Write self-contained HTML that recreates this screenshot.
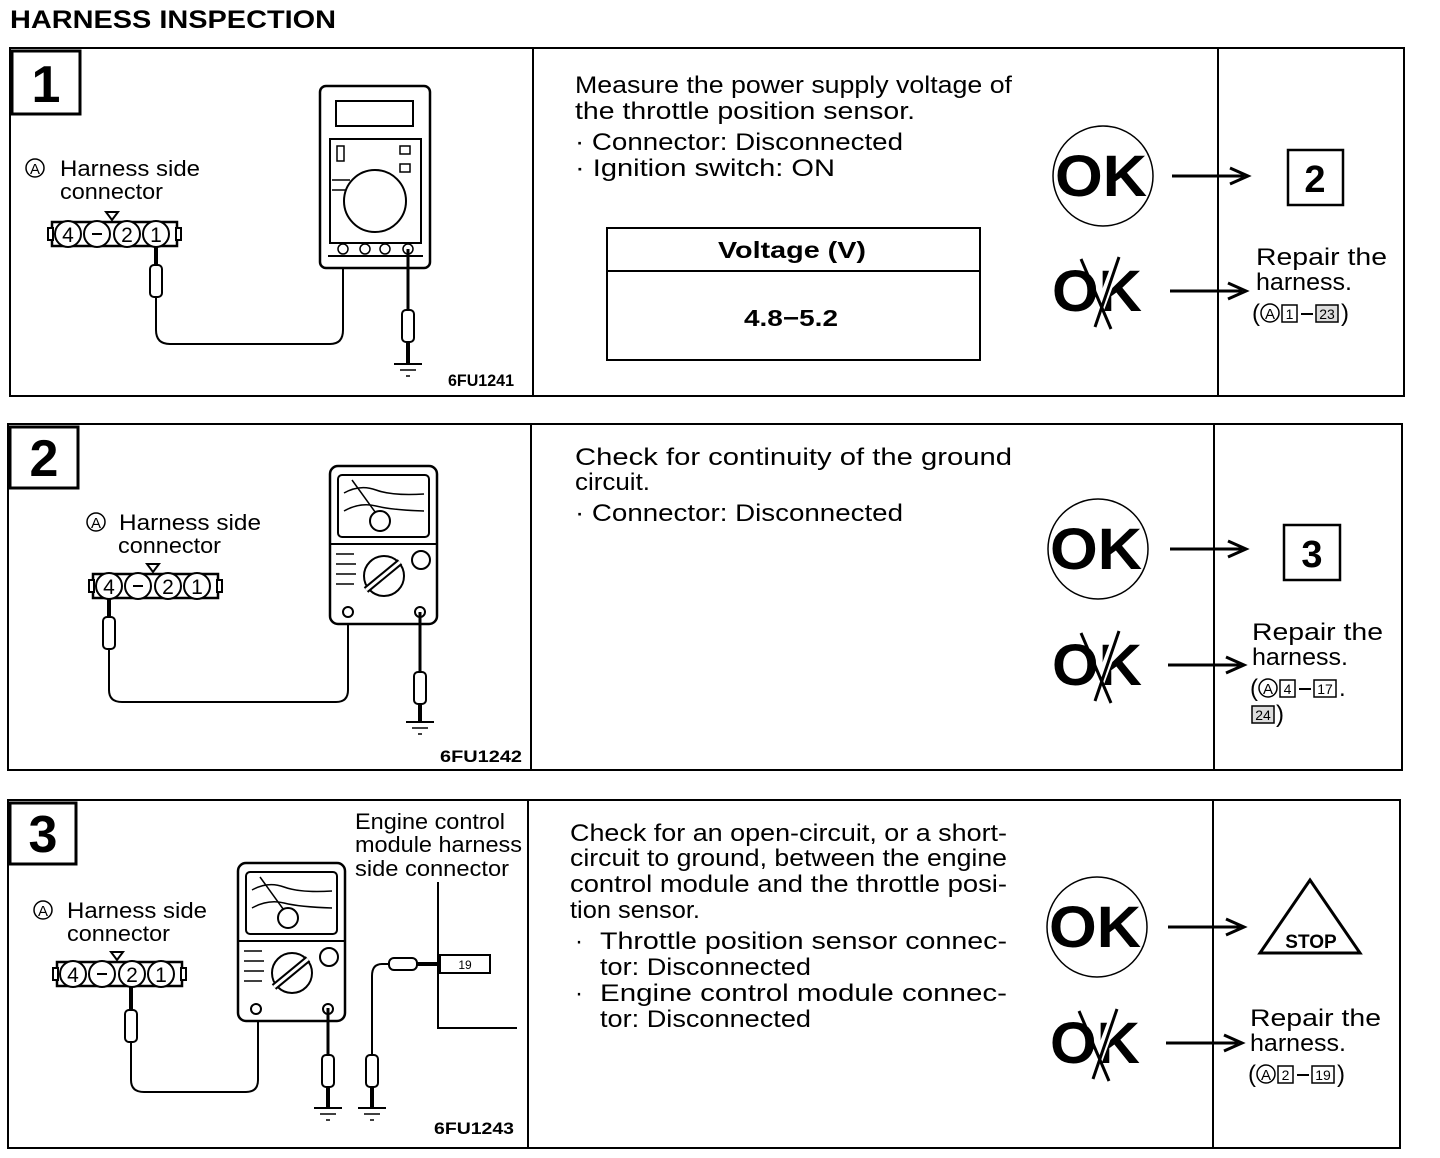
<!DOCTYPE html>
<html><head><meta charset="utf-8"><style>
html,body{margin:0;padding:0;background:#fff}
svg{display:block}
text{font-family:"Liberation Sans",sans-serif;fill:#000}
.t{font-size:24px}
.b{font-weight:bold}
</style></head><body>
<svg width="1440" height="1158" viewBox="0 0 1440 1158" xmlns="http://www.w3.org/2000/svg">
<defs>
<g id="ca"><circle cx="0" cy="0" r="9" fill="none" stroke="#000" stroke-width="1.5"/><text x="0" y="6" text-anchor="middle" font-size="15">A</text></g>
<g id="ok">
<circle cx="0" cy="0" r="50" fill="none" stroke="#000" stroke-width="1.5"/>
<text x="-2" y="20" text-anchor="middle" class="b" font-size="58" textLength="92" lengthAdjust="spacingAndGlyphs">OK</text>
</g>
<g id="ng">
<text x="0" y="20" text-anchor="middle" class="b" font-size="58" textLength="90" lengthAdjust="spacingAndGlyphs">OK</text>
<line x1="-4" y1="36" x2="22" y2="-34" stroke="#fff" stroke-width="9"/>
<line x1="-2" y1="36" x2="22" y2="-34" stroke="#000" stroke-width="3"/>
<line x1="-16" y1="-32" x2="14" y2="38" stroke="#000" stroke-width="3"/>
</g>
<g id="arr"><line x1="0" y1="0" x2="72" y2="0" stroke="#000" stroke-width="3"/><path d="M58,-8 L76,0 L58,8" fill="none" stroke="#000" stroke-width="3"/></g>
<g id="gnd"><line x1="-14" y1="0" x2="14" y2="0" stroke="#000" stroke-width="2"/><line x1="-8" y1="6" x2="8" y2="6" stroke="#000" stroke-width="1.5"/><line x1="-2" y1="12" x2="2" y2="12" stroke="#000" stroke-width="1.5"/></g>
<g id="probe"><rect x="-6" y="0" width="12" height="32" rx="4" fill="#fff" stroke="#000" stroke-width="2"/></g>
<g id="conn">
<rect x="0" y="0" width="125" height="24" fill="#fff" stroke="#000" stroke-width="2.5"/>
<rect x="-4" y="6" width="5" height="12" fill="#fff" stroke="#000" stroke-width="2"/>
<rect x="124" y="6" width="5" height="12" fill="#fff" stroke="#000" stroke-width="2"/>
<circle cx="16" cy="12" r="13" fill="#fff" stroke="#000" stroke-width="2"/>
<circle cx="45" cy="12" r="13" fill="#fff" stroke="#000" stroke-width="2"/>
<circle cx="75" cy="12" r="13" fill="#fff" stroke="#000" stroke-width="2"/>
<circle cx="104" cy="12" r="13" fill="#fff" stroke="#000" stroke-width="2"/>
<text x="16" y="20" text-anchor="middle" font-size="21">4</text>
<line x1="40" y1="12" x2="50" y2="12" stroke="#000" stroke-width="2"/>
<text x="75" y="20" text-anchor="middle" font-size="21">2</text>
<text x="104" y="20" text-anchor="middle" font-size="21">1</text>
<path d="M54,-10 L66,-10 L60,-2 Z" fill="#fff" stroke="#000" stroke-width="2"/>
</g>
<g id="analog">
<rect x="0" y="0" width="107" height="158" rx="8" fill="#fff" stroke="#000" stroke-width="2.5"/>
<rect x="8" y="9" width="91" height="62" rx="4" fill="none" stroke="#000" stroke-width="2"/>
<line x1="0" y1="78" x2="107" y2="78" stroke="#000" stroke-width="2"/>
<path d="M14,27 Q30,18 46,24 T94,28 M14,45 Q30,36 46,40 T94,45" fill="none" stroke="#000" stroke-width="1.5"/>
<line x1="22" y1="14" x2="48" y2="50" stroke="#000" stroke-width="1.5"/>
<circle cx="50" cy="55" r="10" fill="#fff" stroke="#000" stroke-width="2"/>
<circle cx="91" cy="94" r="9" fill="none" stroke="#000" stroke-width="2"/>
<circle cx="54" cy="110" r="20" fill="none" stroke="#000" stroke-width="2"/>
<line x1="36" y1="124" x2="70" y2="96" stroke="#000" stroke-width="7"/>
<line x1="36" y1="124" x2="70" y2="96" stroke="#fff" stroke-width="3"/>
<path d="M6,88 H24 M6,98 H26 M6,108 H26 M6,118 H24" stroke="#000" stroke-width="1.5"/>
<circle cx="18" cy="146" r="5" fill="none" stroke="#000" stroke-width="2"/>
<circle cx="90" cy="146" r="5" fill="none" stroke="#000" stroke-width="2"/>
</g>
</defs>

<text x="10" y="28" class="b" font-size="25" textLength="326" lengthAdjust="spacingAndGlyphs">HARNESS INSPECTION</text>

<!-- Panel 1 -->
<rect x="10" y="48" width="1394" height="348" fill="none" stroke="#000" stroke-width="2"/>
<line x1="533" y1="48" x2="533" y2="396" stroke="#000" stroke-width="2"/>
<line x1="1218" y1="48" x2="1218" y2="396" stroke="#000" stroke-width="2"/>
<rect x="12" y="51" width="68" height="63" fill="none" stroke="#000" stroke-width="3"/>
<text x="46" y="102" text-anchor="middle" class="b" font-size="52">1</text>
<use href="#ca" x="35" y="168"/>
<text x="60" y="176" font-size="22" textLength="140" lengthAdjust="spacingAndGlyphs">Harness  side</text>
<text x="60" y="199" font-size="22" textLength="103" lengthAdjust="spacingAndGlyphs">connector</text>
<use href="#conn" x="52" y="222"/>
<line x1="156" y1="246" x2="156" y2="265" stroke="#000" stroke-width="4"/>
<use href="#probe" x="156" y="265"/>
<path d="M156,297 V330 Q156,344 170,344 H330 Q343,344 343,330 V252" fill="none" stroke="#000" stroke-width="2"/>
<rect x="320" y="86" width="110" height="182" rx="6" fill="#fff" stroke="#000" stroke-width="2.5"/>
<rect x="336" y="101" width="77" height="25" fill="none" stroke="#000" stroke-width="2"/>
<rect x="330" y="139" width="91" height="104" fill="none" stroke="#000" stroke-width="2"/>
<circle cx="375" cy="201" r="31" fill="none" stroke="#000" stroke-width="2"/>
<rect x="337" y="146" width="7" height="15" fill="none" stroke="#000" stroke-width="1.5"/>
<rect x="400" y="146" width="10" height="8" fill="none" stroke="#000" stroke-width="1.5"/>
<rect x="400" y="164" width="10" height="8" fill="none" stroke="#000" stroke-width="1.5"/>
<path d="M332,180 H350 M332,190 H346" stroke="#000" stroke-width="1.5"/>
<line x1="328" y1="256" x2="423" y2="256" stroke="#000" stroke-width="2"/>
<circle cx="343" cy="249" r="5" fill="none" stroke="#000" stroke-width="1.5"/>
<circle cx="365" cy="249" r="5" fill="none" stroke="#000" stroke-width="1.5"/>
<circle cx="385" cy="249" r="5" fill="none" stroke="#000" stroke-width="1.5"/>
<circle cx="408" cy="249" r="5" fill="none" stroke="#000" stroke-width="1.5"/>
<line x1="408" y1="249" x2="408" y2="310" stroke="#000" stroke-width="3"/>
<use href="#probe" x="408" y="310"/>
<line x1="408" y1="342" x2="408" y2="364" stroke="#000" stroke-width="4"/>
<use href="#gnd" x="408" y="364"/>
<text x="448" y="386" class="b" font-size="17" textLength="66" lengthAdjust="spacingAndGlyphs">6FU1241</text>

<text x="575" y="93" class="t" textLength="437" lengthAdjust="spacingAndGlyphs">Measure the power supply voltage of</text>
<text x="575" y="119" class="t" textLength="340" lengthAdjust="spacingAndGlyphs">the  throttle  position  sensor.</text>
<text x="575" y="150" class="t" textLength="328" lengthAdjust="spacingAndGlyphs">·  Connector:  Disconnected</text>
<text x="575" y="176" class="t" textLength="260" lengthAdjust="spacingAndGlyphs">·  Ignition  switch:  ON</text>
<rect x="607" y="228" width="373" height="132" fill="none" stroke="#000" stroke-width="2"/>
<line x1="607" y1="271" x2="980" y2="271" stroke="#000" stroke-width="2"/>
<text x="718" y="258" class="b" font-size="23" textLength="148" lengthAdjust="spacingAndGlyphs">Voltage  (V)</text>
<text x="744" y="326" class="b" font-size="23" textLength="94" lengthAdjust="spacingAndGlyphs">4.8−5.2</text>
<use href="#ok" x="1103" y="176"/>
<use href="#ng" x="1097" y="291"/>
<use href="#arr" x="1172" y="176"/>
<use href="#arr" x="1170" y="291"/>
<rect x="1288" y="150" width="55" height="55" fill="none" stroke="#000" stroke-width="2.5"/>
<text x="1315" y="192" text-anchor="middle" class="b" font-size="38">2</text>
<text x="1256" y="265" class="t" textLength="131" lengthAdjust="spacingAndGlyphs">Repair  the</text>
<text x="1256" y="290" class="t" textLength="96" lengthAdjust="spacingAndGlyphs">harness.</text>
<g transform="translate(1252,304)">
<text x="0" y="17" class="t">(</text><use href="#ca" x="18" y="9"/>
<rect x="30" y="1" width="15" height="17" fill="none" stroke="#000" stroke-width="1.5"/><text x="37.5" y="15" text-anchor="middle" font-size="14">1</text>
<line x1="49" y1="10" x2="61" y2="10" stroke="#000" stroke-width="2"/>
<rect x="64" y="1" width="22" height="17" fill="#ddd" stroke="#000" stroke-width="1.5"/><text x="75" y="15" text-anchor="middle" font-size="14">23</text>
<text x="89" y="17" class="t">)</text></g>

<!-- Panel 2 -->
<rect x="8" y="424" width="1394" height="346" fill="none" stroke="#000" stroke-width="2"/>
<line x1="531" y1="424" x2="531" y2="770" stroke="#000" stroke-width="2"/>
<line x1="1214" y1="424" x2="1214" y2="770" stroke="#000" stroke-width="2"/>
<rect x="10" y="427" width="68" height="61" fill="none" stroke="#000" stroke-width="3"/>
<text x="44" y="476" text-anchor="middle" class="b" font-size="52">2</text>
<use href="#ca" x="96" y="522"/>
<text x="119" y="530" font-size="22" textLength="142" lengthAdjust="spacingAndGlyphs">Harness  side</text>
<text x="118" y="553" font-size="22" textLength="103" lengthAdjust="spacingAndGlyphs">connector</text>
<use href="#conn" x="93" y="574"/>
<line x1="109" y1="598" x2="109" y2="617" stroke="#000" stroke-width="4"/>
<use href="#probe" x="109" y="617"/>
<path d="M109,649 V690 Q109,702 122,702 H336 Q348,702 348,690 V612" fill="none" stroke="#000" stroke-width="2"/>
<use href="#analog" x="330" y="466"/>
<line x1="420" y1="612" x2="420" y2="672" stroke="#000" stroke-width="3"/>
<use href="#probe" x="420" y="672"/>
<line x1="420" y1="704" x2="420" y2="722" stroke="#000" stroke-width="4"/>
<use href="#gnd" x="420" y="722"/>
<text x="440" y="762" class="b" font-size="17" textLength="82" lengthAdjust="spacingAndGlyphs">6FU1242</text>
<text x="575" y="465" class="t" textLength="437" lengthAdjust="spacingAndGlyphs">Check  for  continuity  of  the  ground</text>
<text x="575" y="490" class="t" textLength="75" lengthAdjust="spacingAndGlyphs">circuit.</text>
<text x="575" y="521" class="t" textLength="328" lengthAdjust="spacingAndGlyphs">·  Connector:  Disconnected</text>
<use href="#ok" x="1098" y="549"/>
<use href="#ng" x="1097" y="665"/>
<use href="#arr" x="1170" y="549"/>
<use href="#arr" x="1168" y="665"/>
<rect x="1284" y="525" width="56" height="55" fill="none" stroke="#000" stroke-width="2.5"/>
<text x="1312" y="567" text-anchor="middle" class="b" font-size="38">3</text>
<text x="1252" y="640" class="t" textLength="131" lengthAdjust="spacingAndGlyphs">Repair  the</text>
<text x="1252" y="665" class="t" textLength="96" lengthAdjust="spacingAndGlyphs">harness.</text>
<g transform="translate(1250,679)">
<text x="0" y="17" class="t">(</text><use href="#ca" x="18" y="9"/>
<rect x="30" y="1" width="15" height="17" fill="none" stroke="#000" stroke-width="1.5"/><text x="37.5" y="15" text-anchor="middle" font-size="14">4</text>
<line x1="49" y1="10" x2="61" y2="10" stroke="#000" stroke-width="2"/>
<rect x="64" y="1" width="22" height="17" fill="none" stroke="#000" stroke-width="1.5"/><text x="75" y="15" text-anchor="middle" font-size="14">17</text>
<text x="89" y="17" class="t">.</text>
<rect x="2" y="27" width="22" height="17" fill="#ddd" stroke="#000" stroke-width="1.5"/><text x="13" y="41" text-anchor="middle" font-size="14">24</text>
<text x="26" y="43" class="t">)</text></g>

<!-- Panel 3 -->
<rect x="8" y="800" width="1392" height="348" fill="none" stroke="#000" stroke-width="2"/>
<line x1="528" y1="800" x2="528" y2="1148" stroke="#000" stroke-width="2"/>
<line x1="1213" y1="800" x2="1213" y2="1148" stroke="#000" stroke-width="2"/>
<rect x="10" y="803" width="66" height="61" fill="none" stroke="#000" stroke-width="3"/>
<text x="43" y="852" text-anchor="middle" class="b" font-size="52">3</text>
<text x="355" y="829" font-size="22" textLength="150" lengthAdjust="spacingAndGlyphs">Engine control</text>
<text x="355" y="852" font-size="22" textLength="167" lengthAdjust="spacingAndGlyphs">module harness</text>
<text x="355" y="876" font-size="22" textLength="154" lengthAdjust="spacingAndGlyphs">side connector</text>
<use href="#ca" x="43" y="910"/>
<text x="67" y="918" font-size="22" textLength="140" lengthAdjust="spacingAndGlyphs">Harness  side</text>
<text x="67" y="941" font-size="22" textLength="103" lengthAdjust="spacingAndGlyphs">connector</text>
<use href="#conn" x="57" y="962"/>
<line x1="131" y1="986" x2="131" y2="1010" stroke="#000" stroke-width="4"/>
<use href="#probe" x="131" y="1010"/>
<path d="M131,1042 V1080 Q131,1092 144,1092 H246 Q258,1092 258,1080 V1008" fill="none" stroke="#000" stroke-width="2"/>
<use href="#analog" x="238" y="863"/>
<line x1="328" y1="1008" x2="328" y2="1055" stroke="#000" stroke-width="3"/>
<use href="#probe" x="328" y="1055"/>
<line x1="328" y1="1087" x2="328" y2="1108" stroke="#000" stroke-width="4"/>
<use href="#gnd" x="328" y="1108"/>
<path d="M438,882 V1028 H517" fill="none" stroke="#000" stroke-width="2"/>
<rect x="440" y="955" width="50" height="18" fill="#fff" stroke="#000" stroke-width="2"/>
<text x="465" y="969" text-anchor="middle" font-size="12">19</text>
<line x1="415" y1="964" x2="440" y2="964" stroke="#000" stroke-width="4"/>
<rect x="389" y="958" width="28" height="12" rx="5" fill="#fff" stroke="#000" stroke-width="2"/>
<path d="M389,964 H382 Q372,964 372,976 V1055" fill="none" stroke="#000" stroke-width="2"/>
<use href="#probe" x="372" y="1055"/>
<line x1="372" y1="1087" x2="372" y2="1108" stroke="#000" stroke-width="4"/>
<use href="#gnd" x="372" y="1108"/>
<text x="434" y="1134" class="b" font-size="17" textLength="80" lengthAdjust="spacingAndGlyphs">6FU1243</text>
<text x="570" y="841" class="t" textLength="437" lengthAdjust="spacingAndGlyphs">Check for an open-circuit, or a short-</text>
<text x="570" y="866" class="t" textLength="437" lengthAdjust="spacingAndGlyphs">circuit to ground, between the engine</text>
<text x="570" y="892" class="t" textLength="437" lengthAdjust="spacingAndGlyphs">control module and the throttle posi-</text>
<text x="570" y="918" class="t" textLength="130" lengthAdjust="spacingAndGlyphs">tion sensor.</text>
<text x="575" y="949" class="t">·</text>
<text x="600" y="949" class="t" textLength="407" lengthAdjust="spacingAndGlyphs">Throttle  position  sensor  connec-</text>
<text x="600" y="975" class="t" textLength="211" lengthAdjust="spacingAndGlyphs">tor:  Disconnected</text>
<text x="575" y="1001" class="t">·</text>
<text x="600" y="1001" class="t" textLength="407" lengthAdjust="spacingAndGlyphs">Engine  control  module  connec-</text>
<text x="600" y="1027" class="t" textLength="211" lengthAdjust="spacingAndGlyphs">tor:  Disconnected</text>
<use href="#ok" x="1097" y="927"/>
<use href="#ng" x="1095" y="1043"/>
<use href="#arr" x="1168" y="927"/>
<use href="#arr" x="1166" y="1043"/>
<path d="M1310,880 L1360,953 L1260,953 Z" fill="none" stroke="#000" stroke-width="3"/>
<text x="1311" y="948" text-anchor="middle" class="b" font-size="19">STOP</text>
<text x="1250" y="1026" class="t" textLength="131" lengthAdjust="spacingAndGlyphs">Repair  the</text>
<text x="1250" y="1051" class="t" textLength="96" lengthAdjust="spacingAndGlyphs">harness.</text>
<g transform="translate(1248,1065)">
<text x="0" y="17" class="t">(</text><use href="#ca" x="18" y="9"/>
<rect x="30" y="1" width="15" height="17" fill="none" stroke="#000" stroke-width="1.5"/><text x="37.5" y="15" text-anchor="middle" font-size="14">2</text>
<line x1="49" y1="10" x2="61" y2="10" stroke="#000" stroke-width="2"/>
<rect x="64" y="1" width="22" height="17" fill="none" stroke="#000" stroke-width="1.5"/><text x="75" y="15" text-anchor="middle" font-size="14">19</text>
<text x="89" y="17" class="t">)</text></g>
</svg>
</body></html>
